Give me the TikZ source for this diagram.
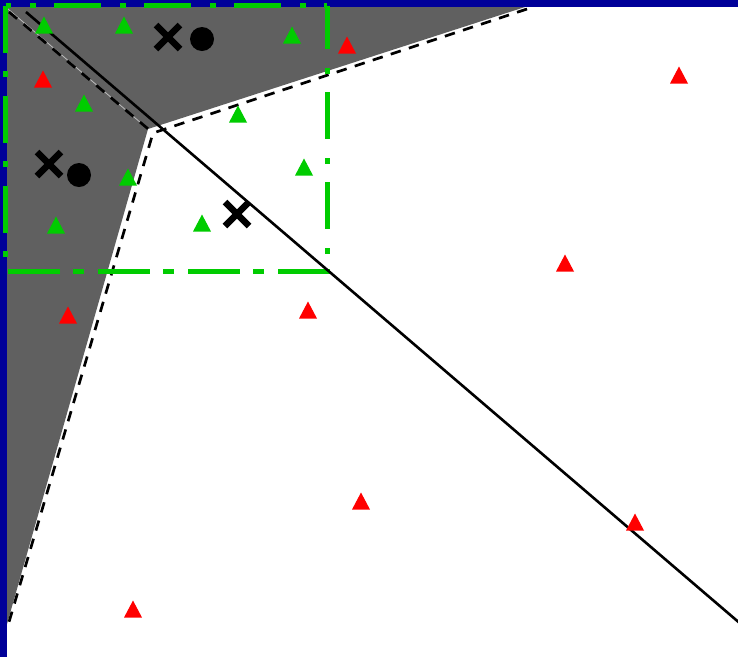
\documentclass[tikz,border=0pt]{standalone}
\definecolor{frameblue}{RGB}{0,0,153}
\definecolor{regiongray}{RGB}{96,96,96}
\definecolor{ptgreen}{RGB}{0,204,0}
\definecolor{ptred}{RGB}{255,0,0}
\definecolor{thinline}{RGB}{190,190,190}
\tikzset{
  pics/tri/.style={code={\fill[#1] (-9,8.5) -- (9,8.5) -- (0,-8.5) -- cycle;}},
  pics/xmark/.style={code={\draw[line width=6.5pt] (-12,-12) -- (12,12) (-12,12) -- (12,-12);}},
  bnd/.style={line width=2.7pt, dash pattern=on 10.5pt off 8.5pt},
  sep/.style={line width=2.6pt},
  zone/.style={draw=ptgreen, line width=5pt, dash pattern=on 47pt off 19pt on 6pt off 18pt}
}
\begin{document}
\begin{tikzpicture}[x=1pt,y=-1pt]
\useasboundingbox (0,0) rectangle (738,657);
\fill[frameblue] (0,0) rectangle (738,657);
\fill[white] (7,7) rectangle (738,657);
% gray region
\fill[regiongray] (7,7) -- (525,7) -- (148,129) -- (7,624) -- cycle;
\coordinate (tl) at (8,9);
\coordinate (c) at (148,129);
\draw[thinline, line width=0.8pt] (tl) -- (c);
% dashed boundaries
\coordinate (d0) at (9,12);
\coordinate (dc) at (153,133);
\coordinate (d1) at (527,9);
\coordinate (d2) at (9,622);
\draw[bnd] (d0) -- (dc);
\draw[bnd] (d1) -- (dc) -- (d2);
% green zone
\coordinate (zbr) at (327,271);
\coordinate (zbl) at (5.5,271);
\coordinate (ztl) at (5.5,5.5);
\coordinate (ztr) at (327,5.5);
\draw[zone, line cap=rect] (zbr) -- (zbl);
\draw[zone, dash phase=52pt] (zbl) -- (ztl);
\draw[zone, dash phase=41.5pt] (ztl) -- (ztr);
\draw[zone, dash phase=3.5pt] (ztr) -- (zbr);
% solid separator
\coordinate (s0) at (26,12);
\coordinate (s1) at (742,625);
\draw[sep] (s0) -- (s1);
% green triangles
\foreach \p in {(44,25),(124,25),(292,35),(84,103),(238,114),(128,177),(304,167),(56,225),(202,223)}
  \pic at \p {tri=ptgreen};
% red triangles
\foreach \p in {(347,45),(43,79),(679,75),(565,263),(68,315),(308,310),(361,501),(635,522),(133,609)}
  \pic at \p {tri=ptred};
% crosses and dots
\pic at (168,37) {xmark};
\pic at (49,164) {xmark};
\pic at (237,214) {xmark};
\fill (202,39) circle (12);
\fill (79,175) circle (12);
\end{tikzpicture}
\end{document}
